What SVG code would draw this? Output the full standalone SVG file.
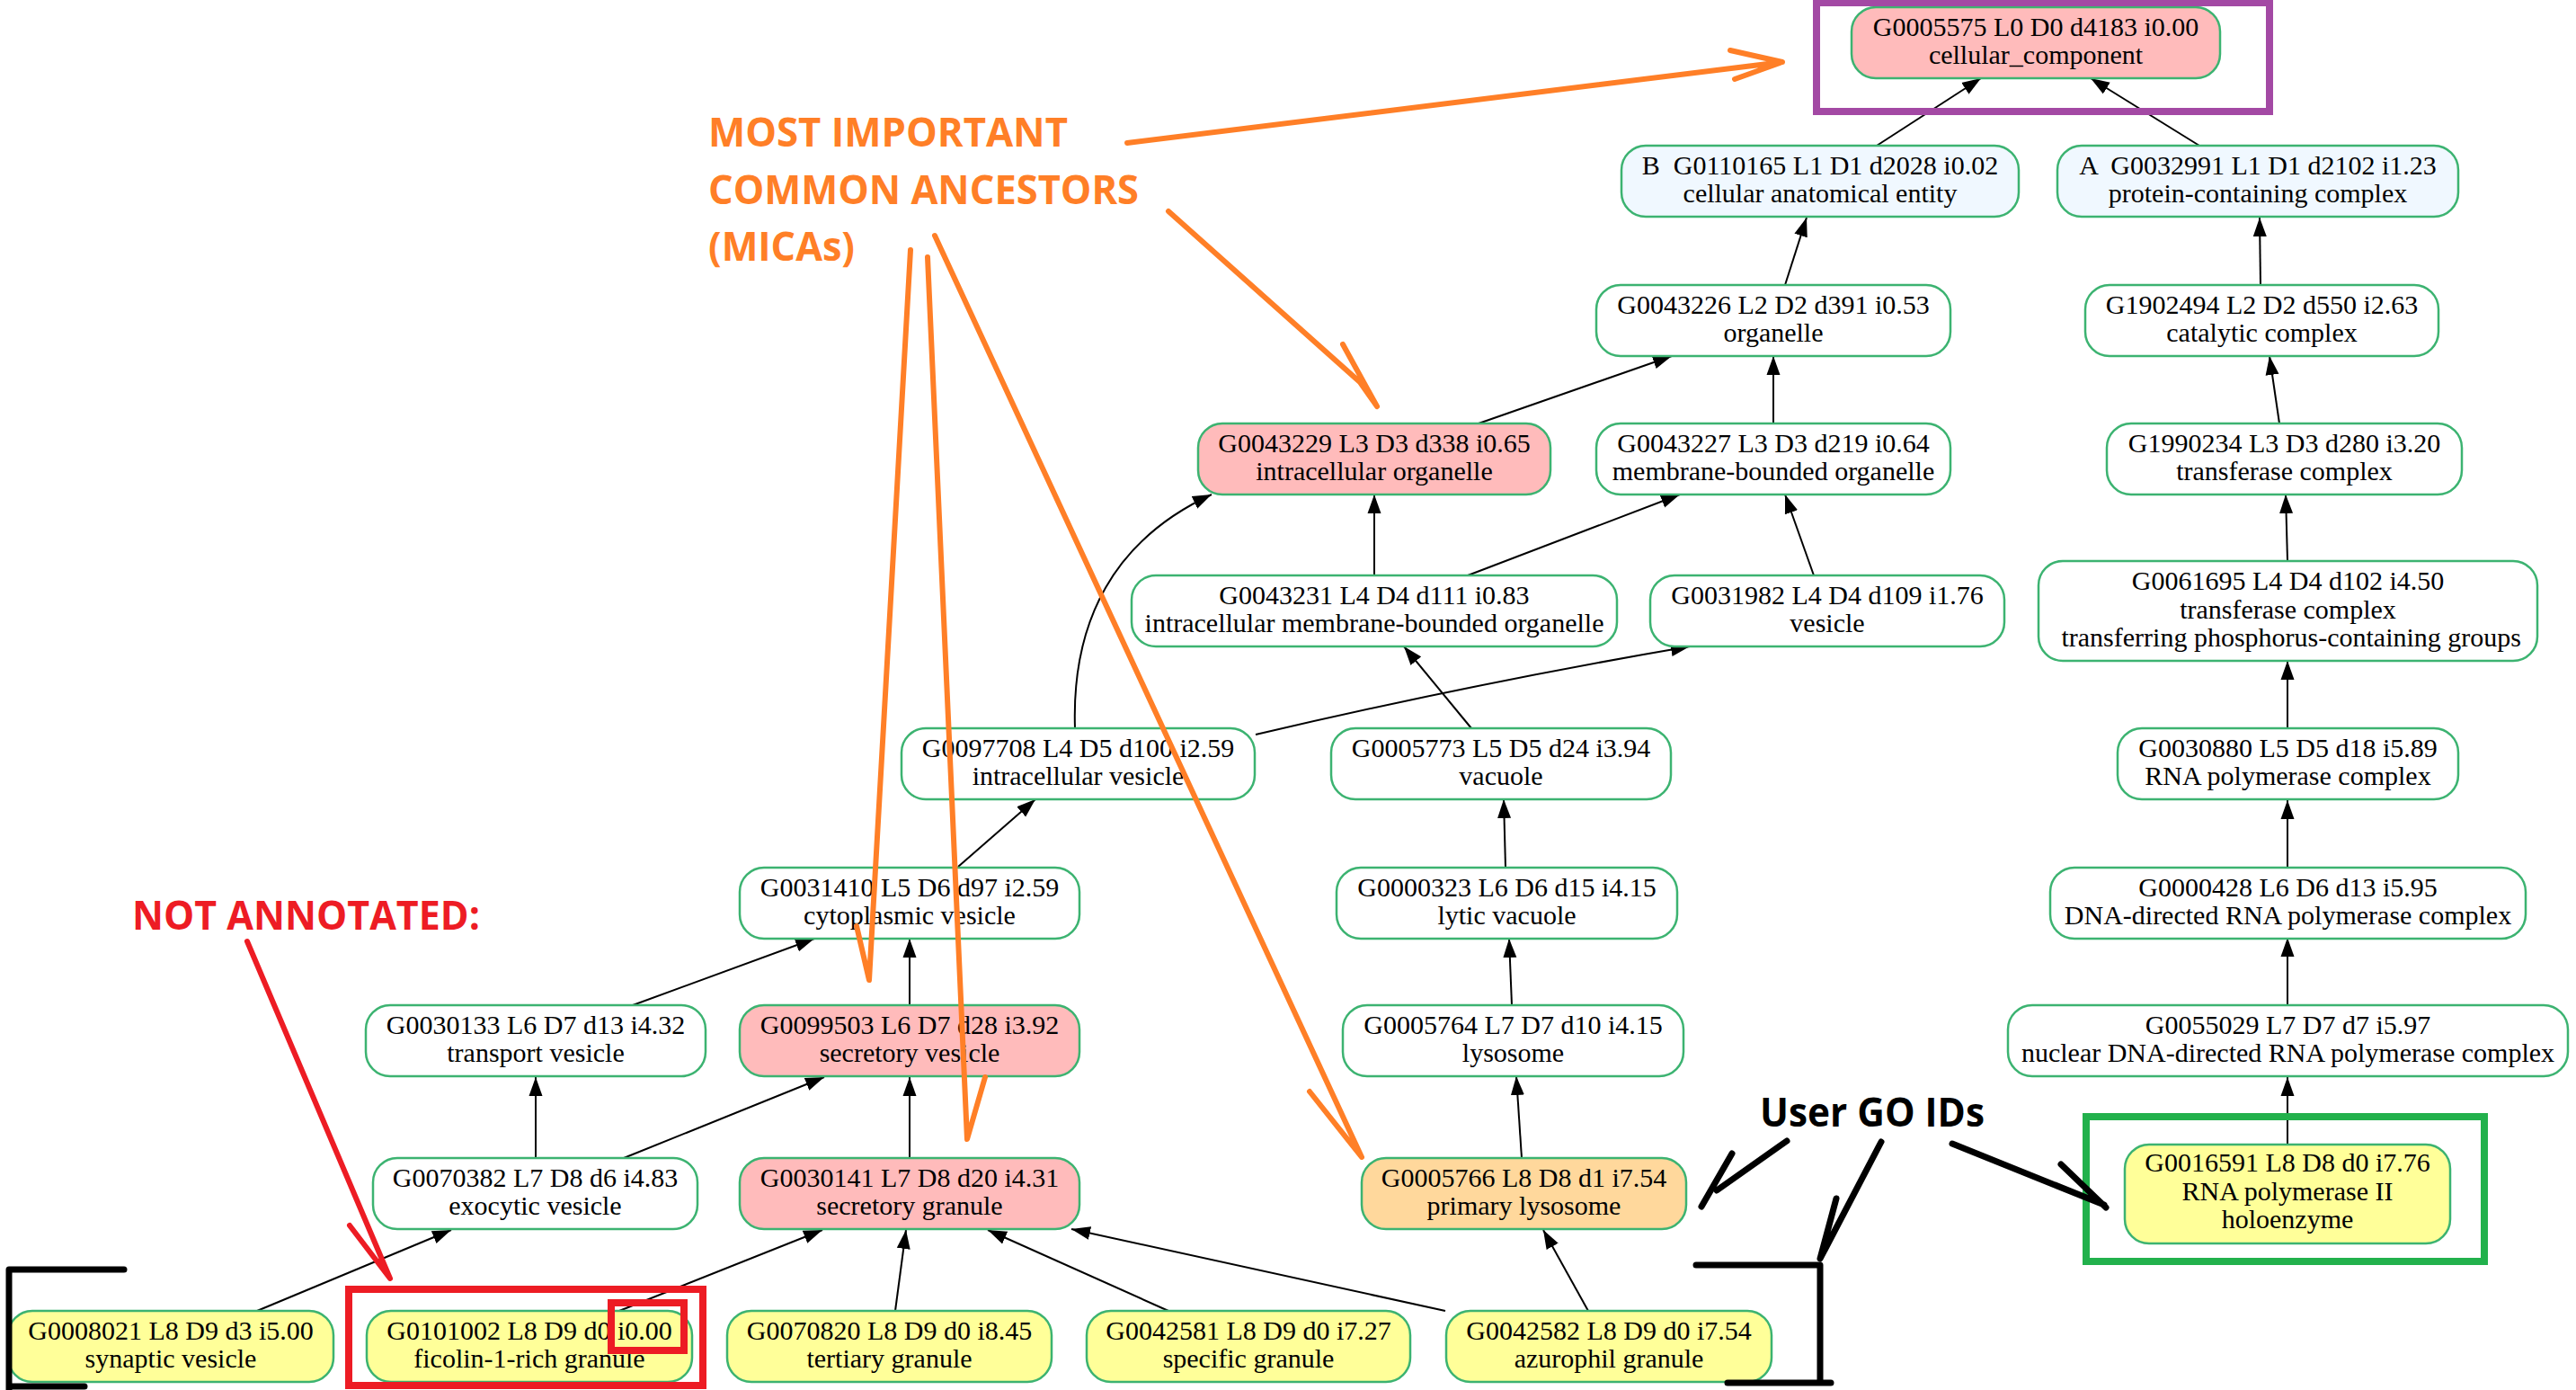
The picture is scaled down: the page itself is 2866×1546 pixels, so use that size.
<svg xmlns="http://www.w3.org/2000/svg" width="2866" height="1546" viewBox="0 0 2866 1546">
<style>
.nd rect{stroke:#3cb371;stroke-width:2.5}
.w{fill:#ffffff}.p{fill:#ffbbbb}.b{fill:#f0f8ff}.y{fill:#ffff99}.o{fill:#ffd89c}
.nd text{font-family:"Liberation Serif",serif;font-size:30px;text-anchor:middle;fill:#000;white-space:pre}
.ed path{fill:none;stroke:#000;stroke-width:2;marker-end:url(#ah)}
.or{fill:none;stroke:#ff7f27;stroke-width:6;stroke-linecap:round;stroke-linejoin:round}
.rd{fill:none;stroke:#ed1c24;stroke-width:6;stroke-linecap:round;stroke-linejoin:round}
.bk{fill:none;stroke:#000;stroke-width:7;stroke-linecap:round;stroke-linejoin:round}
.lab{font-family:"Open Sans",sans-serif;font-size:44px;font-weight:700}
</style>
<defs>
<marker id="ah" markerUnits="userSpaceOnUse" markerWidth="22" markerHeight="16" refX="21" refY="7.5" orient="auto" viewBox="0 0 22 15"><path d="M0,0 L21,7.5 L0,15 z" fill="#000"/></marker>
</defs>
<rect width="2866" height="1546" fill="#fff"/>
<g id="connectors" class="ed">
<path d="M2088,162 L2204,87"/>
<path d="M2447,162 L2326,87"/>
<path d="M1986,317 L2010,242"/>
<path d="M2515,317 L2514,242"/>
<path d="M1645,471 L1860,396"/>
<path d="M1973,471 L1973,396"/>
<path d="M2536,471 L2525,396"/>
<path d="M1529,640 L1529,550"/>
<path d="M1633,640 L1869,550"/>
<path d="M2018,640 L1986,550"/>
<path d="M2545,624 L2543,550"/>
<path d="M1196,810 C1192,690 1240,600 1348,550"/>
<path d="M1397,817 Q1640,760 1880,719"/>
<path d="M1637,810 L1562,719"/>
<path d="M2545,810 L2545,735"/>
<path d="M1066,964 L1152,889"/>
<path d="M1675,965 L1673,889"/>
<path d="M2545,965 L2545,890"/>
<path d="M704,1118 L906,1044"/>
<path d="M1012,1118 L1012,1044"/>
<path d="M1682,1118 L1679,1044"/>
<path d="M2545,1118 L2545,1043"/>
<path d="M596,1288 L596,1198"/>
<path d="M694,1288 L917,1198"/>
<path d="M1012,1288 L1012,1198"/>
<path d="M1693,1288 L1687,1197"/>
<path d="M2545,1273 L2545,1198"/>
<path d="M286,1458 L502,1368"/>
<path d="M689,1458 L915,1368"/>
<path d="M996,1458 L1008,1368"/>
<path d="M1300,1458 L1099,1368"/>
<path d="M1608,1458 L1192,1367"/>
<path d="M1767,1458 L1717,1368"/>
</g>
<g id="n5575" class="nd"><rect class="p" x="2060" y="8" width="410" height="79" rx="27"/><text x="2265" y="40">G0005575 L0 D0 d4183 i0.00</text><text x="2265" y="71">cellular_component</text></g>
<g id="n110165" class="nd"><rect class="b" x="1804" y="162" width="442" height="79" rx="27"/><text x="2025" y="194">B  G0110165 L1 D1 d2028 i0.02</text><text x="2025" y="225">cellular anatomical entity</text></g>
<g id="n32991" class="nd"><rect class="b" x="2289" y="162" width="446" height="79" rx="27"/><text x="2512" y="194">A  G0032991 L1 D1 d2102 i1.23</text><text x="2512" y="225">protein-containing complex</text></g>
<g id="n43226" class="nd"><rect class="w" x="1776" y="317" width="394" height="79" rx="27"/><text x="1973" y="349">G0043226 L2 D2 d391 i0.53</text><text x="1973" y="380">organelle</text></g>
<g id="n1902494" class="nd"><rect class="w" x="2320" y="317" width="393" height="79" rx="27"/><text x="2516.5" y="349">G1902494 L2 D2 d550 i2.63</text><text x="2516.5" y="380">catalytic complex</text></g>
<g id="n43229" class="nd"><rect class="p" x="1333" y="471" width="392" height="79" rx="27"/><text x="1529" y="503">G0043229 L3 D3 d338 i0.65</text><text x="1529" y="534">intracellular organelle</text></g>
<g id="n43227" class="nd"><rect class="w" x="1776" y="471" width="394" height="79" rx="27"/><text x="1973" y="503">G0043227 L3 D3 d219 i0.64</text><text x="1973" y="534">membrane-bounded organelle</text></g>
<g id="n1990234" class="nd"><rect class="w" x="2344" y="471" width="395" height="79" rx="27"/><text x="2541.5" y="503">G1990234 L3 D3 d280 i3.20</text><text x="2541.5" y="534">transferase complex</text></g>
<g id="n43231" class="nd"><rect class="w" x="1259" y="640" width="540" height="79" rx="27"/><text x="1529" y="672">G0043231 L4 D4 d111 i0.83</text><text x="1529" y="703">intracellular membrane-bounded organelle</text></g>
<g id="n31982" class="nd"><rect class="w" x="1836" y="640" width="394" height="79" rx="27"/><text x="2033" y="672">G0031982 L4 D4 d109 i1.76</text><text x="2033" y="703">vesicle</text></g>
<g id="n61695" class="nd"><rect class="w" x="2268" y="624" width="555" height="111" rx="27"/><text x="2545.5" y="656">G0061695 L4 D4 d102 i4.50</text><text x="2545.5" y="688">transferase complex</text><text x="2545.5" y="719"> transferring phosphorus-containing groups</text></g>
<g id="n97708" class="nd"><rect class="w" x="1003" y="810" width="393" height="79" rx="27"/><text x="1199.5" y="842">G0097708 L4 D5 d100 i2.59</text><text x="1199.5" y="873">intracellular vesicle</text></g>
<g id="n5773" class="nd"><rect class="w" x="1481" y="810" width="378" height="79" rx="27"/><text x="1670" y="842">G0005773 L5 D5 d24 i3.94</text><text x="1670" y="873">vacuole</text></g>
<g id="n30880" class="nd"><rect class="w" x="2356" y="810" width="379" height="79" rx="27"/><text x="2545.5" y="842">G0030880 L5 D5 d18 i5.89</text><text x="2545.5" y="873">RNA polymerase complex</text></g>
<g id="n31410" class="nd"><rect class="w" x="823" y="965" width="378" height="79" rx="27"/><text x="1012" y="997">G0031410 L5 D6 d97 i2.59</text><text x="1012" y="1028">cytoplasmic vesicle</text></g>
<g id="n323" class="nd"><rect class="w" x="1487" y="965" width="379" height="79" rx="27"/><text x="1676.5" y="997">G0000323 L6 D6 d15 i4.15</text><text x="1676.5" y="1028">lytic vacuole</text></g>
<g id="n428" class="nd"><rect class="w" x="2281" y="965" width="529" height="79" rx="27"/><text x="2545.5" y="997">G0000428 L6 D6 d13 i5.95</text><text x="2545.5" y="1028">DNA-directed RNA polymerase complex</text></g>
<g id="n30133" class="nd"><rect class="w" x="407" y="1118" width="378" height="79" rx="27"/><text x="596" y="1150">G0030133 L6 D7 d13 i4.32</text><text x="596" y="1181">transport vesicle</text></g>
<g id="n99503" class="nd"><rect class="p" x="823" y="1118" width="378" height="79" rx="27"/><text x="1012" y="1150">G0099503 L6 D7 d28 i3.92</text><text x="1012" y="1181">secretory vesicle</text></g>
<g id="n5764" class="nd"><rect class="w" x="1494" y="1118" width="379" height="79" rx="27"/><text x="1683.5" y="1150">G0005764 L7 D7 d10 i4.15</text><text x="1683.5" y="1181">lysosome</text></g>
<g id="n55029" class="nd"><rect class="w" x="2234" y="1118" width="623" height="79" rx="27"/><text x="2545.5" y="1150">G0055029 L7 D7 d7 i5.97</text><text x="2545.5" y="1181">nuclear DNA-directed RNA polymerase complex</text></g>
<g id="n70382" class="nd"><rect class="w" x="415" y="1288" width="361" height="79" rx="27"/><text x="595.5" y="1320">G0070382 L7 D8 d6 i4.83</text><text x="595.5" y="1351">exocytic vesicle</text></g>
<g id="n30141" class="nd"><rect class="p" x="823" y="1288" width="378" height="79" rx="27"/><text x="1012" y="1320">G0030141 L7 D8 d20 i4.31</text><text x="1012" y="1351">secretory granule</text></g>
<g id="n5766" class="nd"><rect class="o" x="1515" y="1288" width="361" height="79" rx="27"/><text x="1695.5" y="1320">G0005766 L8 D8 d1 i7.54</text><text x="1695.5" y="1351">primary lysosome</text></g>
<g id="n16591" class="nd"><rect class="y" x="2364" y="1273" width="362" height="110" rx="27"/><text x="2545" y="1303">G0016591 L8 D8 d0 i7.76</text><text x="2545" y="1335">RNA polymerase II</text><text x="2545" y="1366">holoenzyme</text></g>
<g id="n8021" class="nd"><rect class="y" x="9" y="1458" width="362" height="79" rx="27"/><text x="190" y="1490">G0008021 L8 D9 d3 i5.00</text><text x="190" y="1521">synaptic vesicle</text></g>
<g id="n101002" class="nd"><rect class="y" x="408" y="1458" width="362" height="79" rx="27"/><text x="589" y="1490">G0101002 L8 D9 d0 i0.00</text><text x="589" y="1521">ficolin-1-rich granule</text></g>
<g id="n70820" class="nd"><rect class="y" x="809" y="1458" width="361" height="79" rx="27"/><text x="989.5" y="1490">G0070820 L8 D9 d0 i8.45</text><text x="989.5" y="1521">tertiary granule</text></g>
<g id="n42581" class="nd"><rect class="y" x="1209" y="1458" width="360" height="79" rx="27"/><text x="1389" y="1490">G0042581 L8 D9 d0 i7.27</text><text x="1389" y="1521">specific granule</text></g>
<g id="n42582" class="nd"><rect class="y" x="1609" y="1458" width="362" height="79" rx="27"/><text x="1790" y="1490">G0042582 L8 D9 d0 i7.54</text><text x="1790" y="1521">azurophil granule</text></g>
<g id="annotations">
<rect x="2021" y="3" width="504" height="121" fill="none" stroke="#a349a4" stroke-width="8"/>
<rect x="2321" y="1242" width="443" height="161" fill="none" stroke="#22b14c" stroke-width="8"/>
<rect x="388" y="1434" width="394" height="107" fill="none" stroke="#ed1c24" stroke-width="8"/>
<rect x="680" y="1449" width="81" height="53" fill="none" stroke="#ed1c24" stroke-width="8"/>
<g fill="#ff7f27" class="lab" font-weight="600">
<text x="788" y="163" textLength="400" lengthAdjust="spacingAndGlyphs">MOST IMPORTANT</text>
<text x="788" y="227" textLength="479" lengthAdjust="spacingAndGlyphs">COMMON ANCESTORS</text>
<text x="788" y="290" textLength="163" lengthAdjust="spacingAndGlyphs">(MICAs)</text>
</g>
<path class="or" d="M1254,159 L1983,69 M1925,56 L1983,69 L1930,88"/>
<path class="or" d="M1300,235 L1513,425 L1532,452 M1494,383 L1532,452"/>
<path class="or" d="M1013,278 L967,1090 L953,1030"/>
<path class="or" d="M1032,286 L1076,1267 L1096,1198"/>
<path class="or" d="M1040,262 L1515,1287 L1457,1214"/>
<text x="147" y="1034" class="lab" fill="#ed1c24" textLength="387" lengthAdjust="spacingAndGlyphs">NOT ANNOTATED:</text>
<path class="rd" d="M275,1047 L434,1422 L389,1363"/>
<text x="1958" y="1253" class="lab" fill="#000" textLength="250" lengthAdjust="spacingAndGlyphs">User GO IDs</text>
<path class="bk" d="M1988,1269 L1910,1324 M1927,1283 L1893,1342"/>
<path class="bk" d="M2093,1270 L2025,1400 L2043,1333"/>
<path class="bk" d="M1887,1407 L2025,1407 L2025,1538 M1922,1538 L2037,1538"/>
<path class="bk" d="M2172,1272 L2341,1340 M2293,1295 L2343,1343"/>
<path class="bk" d="M138,1412 L10,1412 L10,1550 M10,1542 L94,1542"/>
</g>
</svg>
